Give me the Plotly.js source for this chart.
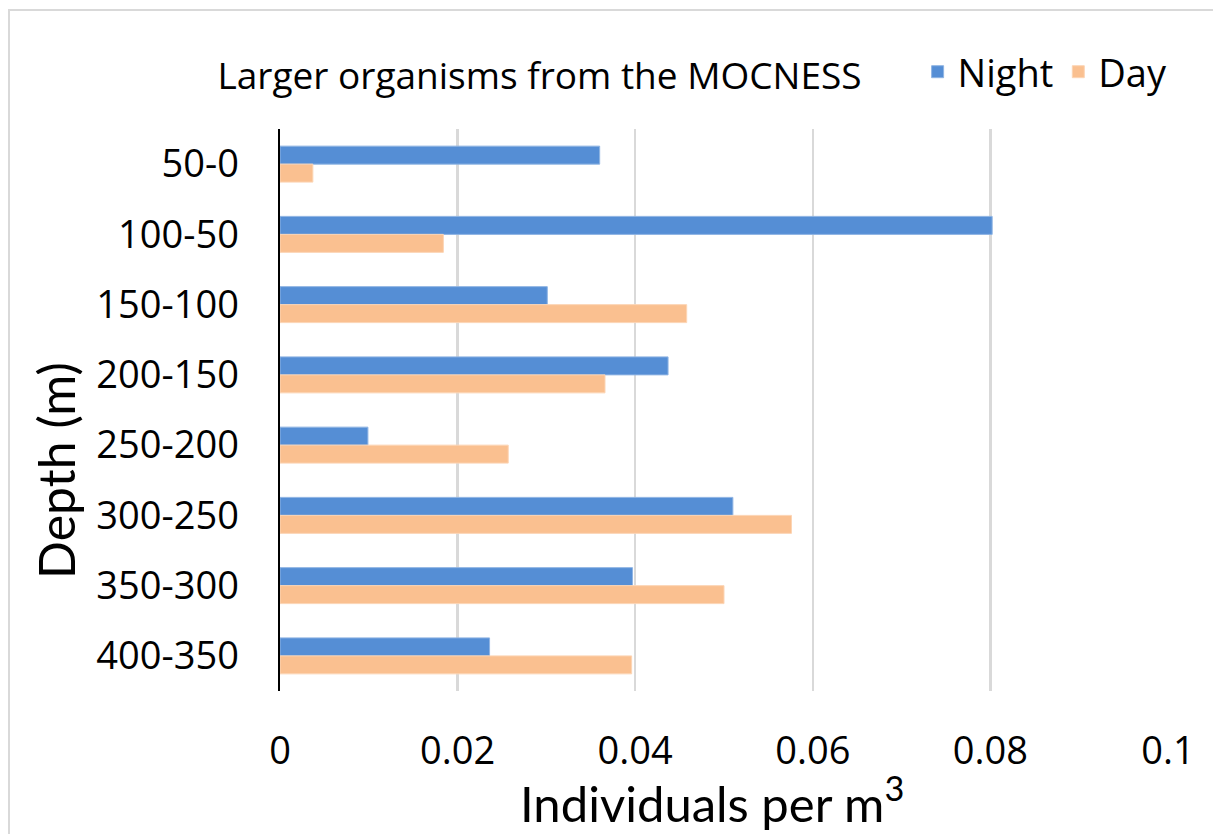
<!DOCTYPE html>
<html>
<head>
<meta charset="utf-8">
<script src="https://cdn.plot.ly/plotly-3.0.1.min.js"></script>
<style>
  html, body { margin: 0; padding: 0; background: #ffffff; }
  #frame {
    position: absolute; left: 8px; top: 9px; width: 1300px; height: 900px;
    border-left: 2px solid #d9d9d9; border-top: 2px solid #d9d9d9;
    pointer-events: none;
  }
  #chart { position: absolute; left: 0; top: 0; width: 1213px; height: 834px; }
</style>
</head>
<body>
<div id="frame"></div>
<div id="chart"></div>
<script>
// Depth bins (m), shallowest first
const depthBins = ["50-0", "100-50", "150-100", "200-150", "250-200", "300-250", "350-300", "400-350"];
// Individuals per cubic metre
const nightValues = [0.0360, 0.0802, 0.0301, 0.0437, 0.0099, 0.0510, 0.0397, 0.0236];
const dayValues   = [0.0037, 0.0184, 0.0458, 0.0366, 0.0257, 0.0576, 0.0500, 0.0396];
const xTickValues = [0, 0.02, 0.04, 0.06, 0.08, 0.1];
const xTickLabels = ["0", "0.02", "0.04", "0.06", "0.08", "0.1"];

const W = 1213, H = 834;
const M = { l: 280, r: 45, t: 129, b: 143 };
const plotW = W - M.l - M.r;
const plotH = H - M.t - M.b;

const traces = [
  {
    type: "bar", orientation: "h", name: "Night",
    y: depthBins, x: nightValues,
    marker: { color: "#558ed5", line: { color: "#8fb4e3", width: 1 } },
    hoverinfo: "x+y+name"
  },
  {
    type: "bar", orientation: "h", name: "Day",
    y: depthBins, x: dayValues,
    marker: { color: "#fac090", line: { color: "#fcd5b5", width: 1 } },
    hoverinfo: "x+y+name"
  }
];

const layout = {
  width: W, height: H,
  margin: M,
  paper_bgcolor: "rgba(0,0,0,0)",
  plot_bgcolor: "#ffffff",
  barmode: "group",
  bargap: 0.488,
  bargroupgap: 0,
  font: { family: "Open Sans, sans-serif", color: "#000000" },
  showlegend: true,
  legend: {
    orientation: "h",
    x: 1.005, xanchor: "right",
    y: 1 + (M.t - 72) / plotH, yanchor: "middle",
    font: { size: 38, family: "Open Sans, sans-serif", color: "#000000" },
    title: { text: "Larger organisms from the MOCNESS     ", side: "left",
             font: { size: 37, family: "Open Sans, sans-serif", color: "#000000" } },
    itemwidth: 30,
    traceorder: "normal",
    bgcolor: "rgba(0,0,0,0)"
  },
  xaxis: {
    range: [0, 0.1],
    tickvals: xTickValues, ticktext: xTickLabels,
    showgrid: true, gridcolor: "#d9d9d9", gridwidth: 2.5,
    zeroline: false, showline: false, ticks: "",
    tickfont: { size: 38, family: "Open Sans, sans-serif" },
    ticklabelstandoff: 34,
    fixedrange: true
  },
  yaxis: {
    type: "category",
    autorange: "reversed",
    showgrid: false, zeroline: false,
    showline: true, linecolor: "#000000", linewidth: 2.5,
    ticks: "",
    tickfont: { size: 38, family: "Open Sans, sans-serif" },
    ticklabelstandoff: 31,
    fixedrange: true
  },
  annotations: [
    {
      text: "Individuals per m<sup>3</sup>",
      xref: "paper", yref: "paper",
      x: (712 - M.l) / plotW, y: -(799 - (H - M.b)) / plotH,
      xanchor: "center", yanchor: "middle",
      showarrow: false,
      font: { size: 49, family: "Lato, sans-serif", color: "#000000" }
    },
    {
      text: "Depth (m)",
      xref: "paper", yref: "paper",
      x: -(M.l - 56) / plotW, y: 1 - (471 - M.t) / plotH,
      xanchor: "center", yanchor: "middle",
      textangle: -90,
      showarrow: false,
      font: { size: 50, family: "Lato, sans-serif", color: "#000000" }
    }
  ]
};

Plotly.newPlot("chart", traces, layout, { displayModeBar: false, staticPlot: true });
</script>
</body>
</html>
